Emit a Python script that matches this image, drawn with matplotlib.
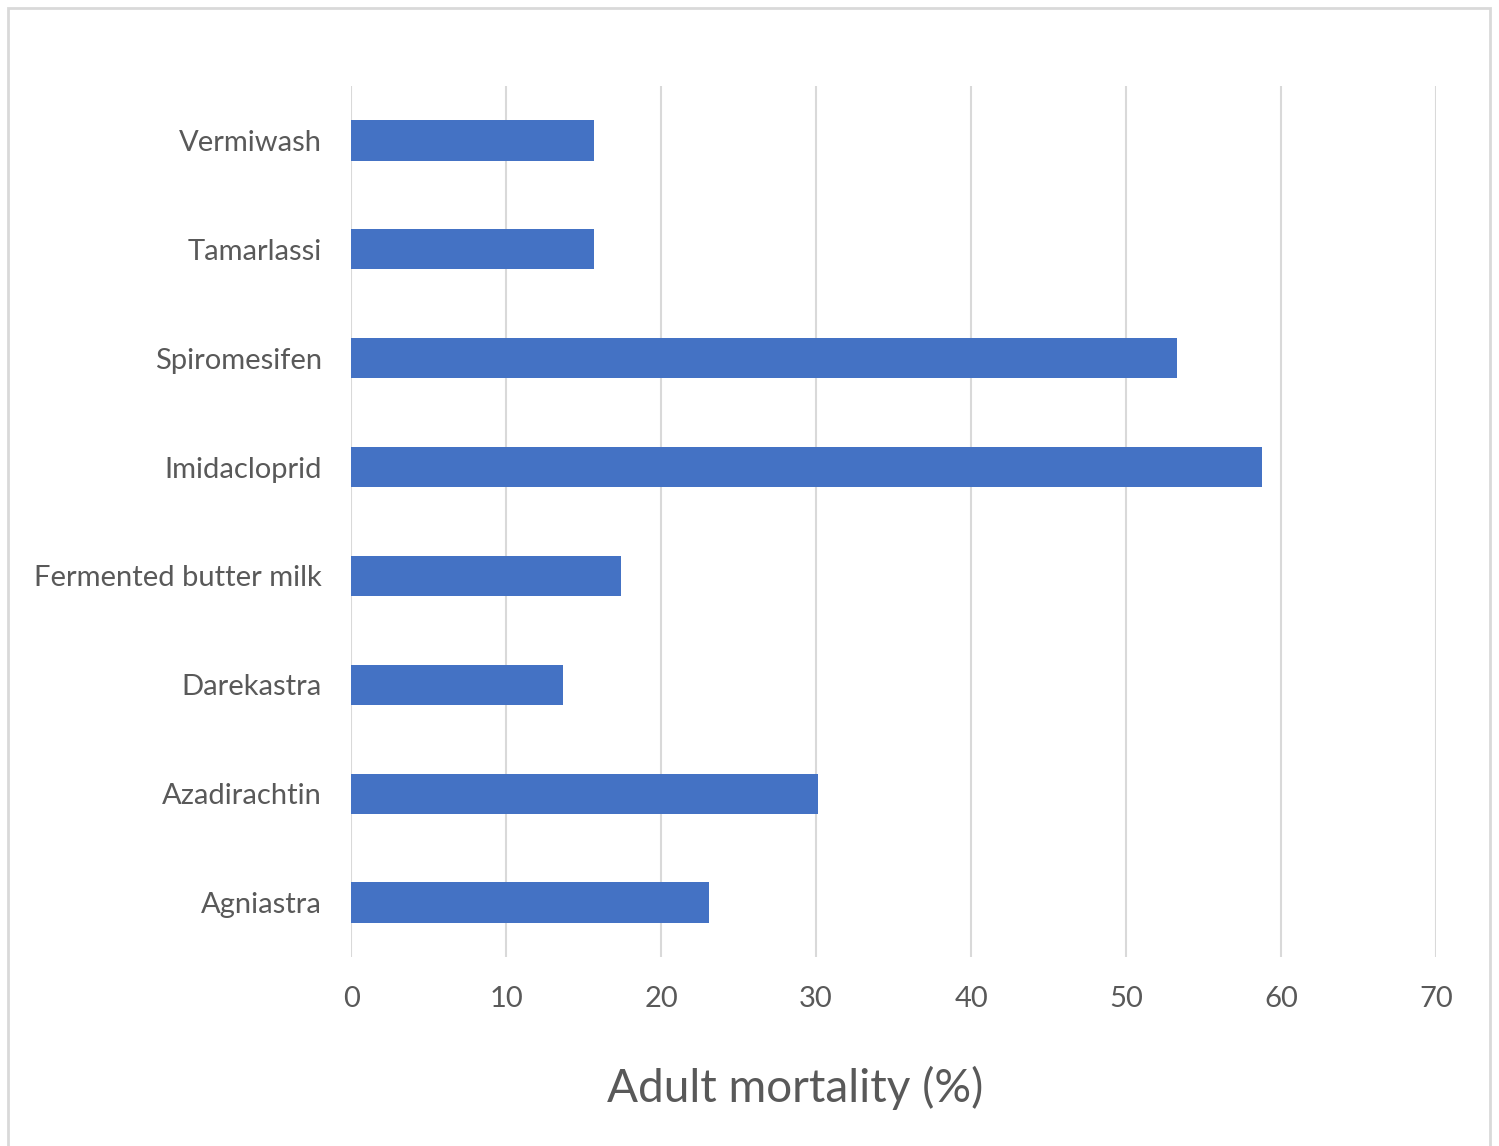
import matplotlib.pyplot as plt
from matplotlib.patches import Rectangle

treatments = ["Agniastra", "Azadirachtin", "Darekastra", "Fermented butter milk",
              "Imidacloprid", "Spiromesifen", "Tamarlassi", "Vermiwash"]
mortality = [23.1, 30.1, 13.7, 17.4, 58.8, 53.3, 15.7, 15.7]
xticks = [0, 10, 20, 30, 40, 50, 60, 70]

plt.rcParams["font.family"] = ["Lato", "DejaVu Sans"]
text_color = "#595959"
grid_color = "#d9d9d9"

fig = plt.figure(figsize=(14.99, 11.46), dpi=100)
ax = fig.add_axes([0.2342, 0.1649, 0.7238, 0.7601])

ax.barh(range(len(treatments)), mortality, height=0.37, color="#4472C4", zorder=3)

ax.set_xlim(0, 70)
ax.set_ylim(-0.5, len(treatments) - 0.5)
ax.set_xticks(xticks)
ax.set_yticks(range(len(treatments)))
ax.set_yticklabels(treatments)
ax.tick_params(axis="both", length=0, labelsize=21, colors=text_color)
ax.tick_params(axis="y", pad=21)
ax.tick_params(axis="x", pad=21)

ax.grid(axis="x", color=grid_color, linewidth=1.5, zorder=0)
for s in ax.spines.values():
    s.set_visible(False)

xlabel = ax.set_xlabel("Adult mortality (%)", fontsize=33, color=text_color)
xlabel.set_va("center")
ax.xaxis.set_label_coords(0.409, -0.150)

# light frame round the whole chart area
fig.patches.append(Rectangle((8 / 1499, -0.01), 1482 / 1499, 1 - 8 / 1146 + 0.01,
                             transform=fig.transFigure, fill=False,
                             edgecolor=grid_color, linewidth=2))

fig.savefig("out.png", dpi=100)
